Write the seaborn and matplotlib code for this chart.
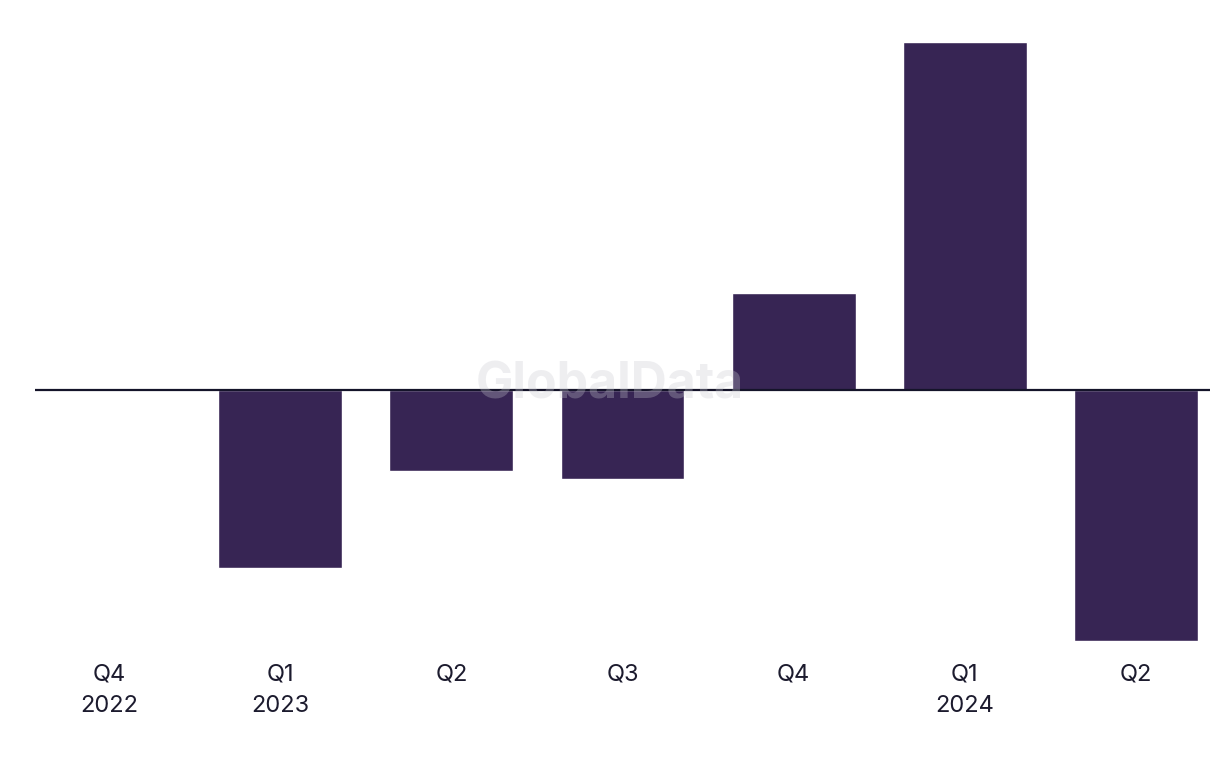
import pandas as pd
import numpy as np
import matplotlib.pyplot as plt
import seaborn as sns

# data (relative units)
quarters = ["Q4\n2022", "Q1\n2023", "Q2", "Q3", "Q4", "Q1\n2024", "Q2"]
values = [0, -178, -81, -89, 97, 348, -251]

df = pd.DataFrame({"quarter": range(len(quarters)), "value": values})

sns.set_theme(style="white")
plt.rcParams['font.family'] = ['Inter', 'DejaVu Sans']

fig = plt.figure(figsize=(12.2, 7.68), dpi=100)
ax = fig.add_axes([35 / 1220, (768 - 641) / 768, 1175 / 1220, 599 / 768])

sns.barplot(
    data=df,
    x="quarter",
    y="value",
    color="#372554",
    saturation=1,
    width=0.725,
    ax=ax
)

ax.axhline(0, color="#15142a", linewidth=1.6, zorder=3)

ax.set_xlim(-0.435, len(quarters) - 0.565)
ax.set_ylim(min(values), max(values))

ax.set_xticks(range(len(quarters)))
ax.set_xticklabels(quarters, fontsize=17, color="#1c1b2e", linespacing=1.6)
ax.tick_params(axis="x", length=0, pad=16)
ax.set_yticks([])
ax.set_xlabel("")
ax.set_ylabel("")

for s in ax.spines.values():
    s.set_visible(False)

# watermark
fig.text(610 / 1220, 1 - 385 / 768, "GlobalData", fontsize=36, fontweight="bold",
         color="#c8c8d0", alpha=0.3, ha="center", va="center", zorder=10)

fig.savefig("out.png", dpi=100)
